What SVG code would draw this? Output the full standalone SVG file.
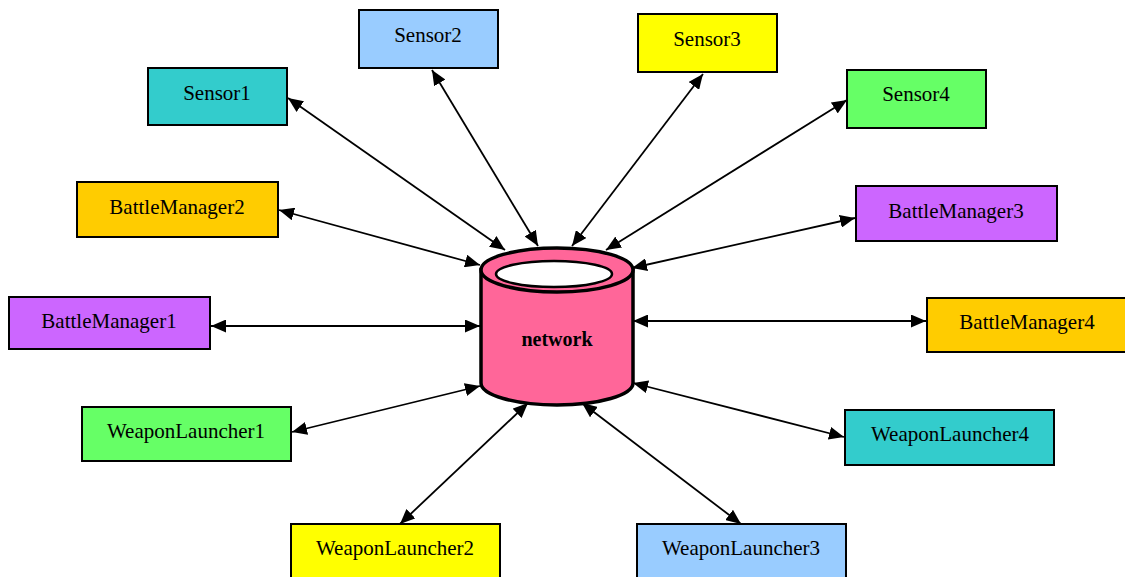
<svg xmlns="http://www.w3.org/2000/svg" width="1125" height="577" viewBox="0 0 1125 577">
<defs>
<marker id="ah" markerUnits="userSpaceOnUse" markerWidth="16" markerHeight="13" refX="15" refY="6.5" orient="auto-start-reverse" viewBox="0 0 16 13">
<path d="M0,0 L15,6.5 L0,13 Z" fill="#000"/>
</marker>
<style>
.n{stroke:#000;stroke-width:2}
.t{font-family:"Liberation Serif","Times New Roman",serif;font-size:21px;fill:#000;text-anchor:middle}
.e{stroke:#000;stroke-width:1.8;fill:none;marker-start:url(#ah);marker-end:url(#ah)}
</style>
</defs>
<rect width="1125" height="577" fill="#fff"/>
<g id="connectors">
<line class="e" x1="288" y1="98" x2="505" y2="250"/>
<line class="e" x1="432" y1="70" x2="538" y2="246"/>
<line class="e" x1="703" y1="74" x2="572" y2="246"/>
<line class="e" x1="847" y1="100" x2="606" y2="250"/>
<line class="e" x1="279" y1="210" x2="480" y2="265"/>
<line class="e" x1="855" y1="218" x2="632" y2="268"/>
<line class="e" x1="211" y1="326" x2="480" y2="326"/>
<line class="e" x1="926" y1="321" x2="633" y2="321"/>
<line class="e" x1="292" y1="432" x2="480" y2="386"/>
<line class="e" x1="844" y1="437" x2="633" y2="383"/>
<line class="e" x1="400" y1="524" x2="528" y2="403"/>
<line class="e" x1="741" y1="524" x2="582" y2="403"/>
</g>
<g id="network">
<path d="M481,270 L481,383 A76,22 0 0 0 633,383 L633,270 Z" fill="#ff6699" stroke="#000" stroke-width="3.5"/>
<ellipse cx="557" cy="270" rx="76" ry="22" fill="#ff6699" stroke="#000" stroke-width="3.5"/>
<ellipse cx="554" cy="274" rx="58" ry="13" fill="#fff" stroke="#000" stroke-width="2.5"/>
<text x="557" y="346" class="t" style="font-weight:bold;font-size:20px">network</text>
</g>
<g id="Sensor1"><rect class="n" x="148" y="68" width="139" height="57" fill="#33cccc"/><text class="t" x="217" y="100">Sensor1</text></g>
<g id="Sensor2"><rect class="n" x="359" y="10" width="139" height="58" fill="#99ccff"/><text class="t" x="428" y="42">Sensor2</text></g>
<g id="Sensor3"><rect class="n" x="638" y="14" width="139" height="58" fill="#ffff00"/><text class="t" x="707" y="46">Sensor3</text></g>
<g id="Sensor4"><rect class="n" x="847" y="70" width="139" height="58" fill="#66ff66"/><text class="t" x="916" y="101">Sensor4</text></g>
<g id="BattleManager2"><rect class="n" x="77" y="182" width="201" height="55" fill="#ffcc00"/><text class="t" x="177" y="214">BattleManager2</text></g>
<g id="BattleManager3"><rect class="n" x="856" y="186" width="201" height="55" fill="#cc66ff"/><text class="t" x="956" y="218">BattleManager3</text></g>
<g id="BattleManager1"><rect class="n" x="9" y="297" width="201" height="52" fill="#cc66ff"/><text class="t" x="109" y="328">BattleManager1</text></g>
<g id="BattleManager4"><rect class="n" x="927" y="298" width="200" height="54" fill="#ffcc00"/><text class="t" x="1027" y="329">BattleManager4</text></g>
<g id="WeaponLauncher1"><rect class="n" x="82" y="407" width="209" height="54" fill="#66ff66"/><text class="t" x="186" y="438">WeaponLauncher1</text></g>
<g id="WeaponLauncher4"><rect class="n" x="845" y="410" width="209" height="55" fill="#33cccc"/><text class="t" x="950" y="441">WeaponLauncher4</text></g>
<g id="WeaponLauncher2"><rect class="n" x="291" y="524" width="209" height="60" fill="#ffff00"/><text class="t" x="395" y="555">WeaponLauncher2</text></g>
<g id="WeaponLauncher3"><rect class="n" x="637" y="524" width="209" height="60" fill="#99ccff"/><text class="t" x="741" y="555">WeaponLauncher3</text></g>
</svg>
